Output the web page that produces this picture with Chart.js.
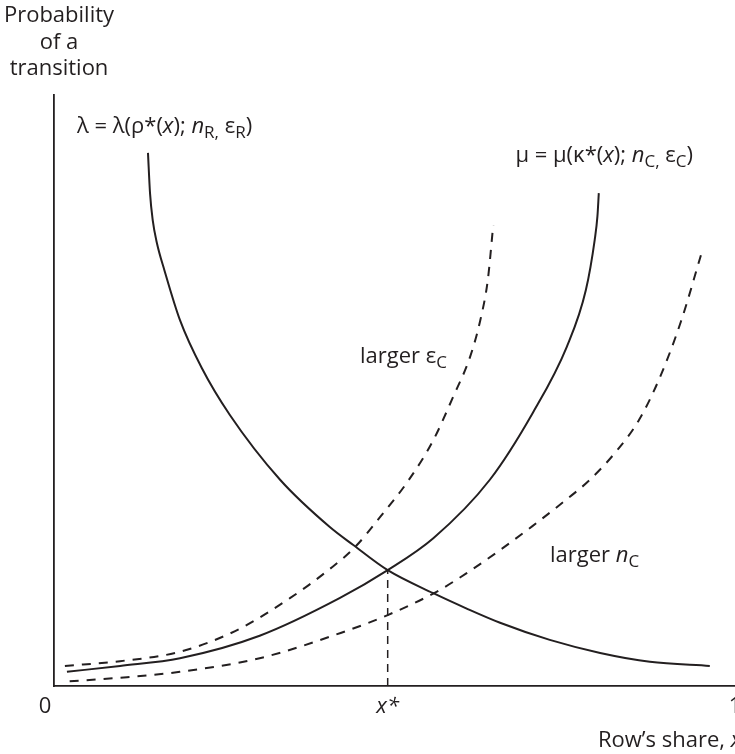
<!DOCTYPE html>
<html lang="en">
<head>
  <meta charset="UTF-8" />
  <title>Probability of a transition</title>
  <script src="https://cdn.jsdelivr.net/npm/chart.js"></script>
  <style>
    html, body { margin: 0; padding: 0; background: #fff; }
    canvas { display: block; }
  </style>
</head>
<body>
  <canvas id="grafico" width="735" height="754"></canvas>

  <script>
    // Row's share x (0..1) against probability of a transition (0..1)
    const lambdaX = [0.138, 0.141, 0.145, 0.151, 0.162, 0.185, 0.217, 0.258, 0.332, 0.405, 0.439, 0.490, 0.557, 0.606, 0.655, 0.728, 0.802, 0.875, 0.963];
    const lambdaY = [0.902, 0.834, 0.788, 0.750, 0.704, 0.619, 0.538, 0.459, 0.349, 0.269, 0.239, 0.196, 0.157, 0.131, 0.107, 0.078, 0.056, 0.041, 0.034];

    const muX = [0.019, 0.097, 0.185, 0.302, 0.420, 0.490, 0.557, 0.640, 0.703, 0.753, 0.781, 0.794, 0.798, 0.800];
    const muY = [0.024, 0.034, 0.047, 0.085, 0.149, 0.196, 0.250, 0.349, 0.462, 0.574, 0.670, 0.755, 0.795, 0.834];

    // larger epsilon_C
    const epsX = [0.016, 0.097, 0.185, 0.266, 0.347, 0.405, 0.442, 0.479, 0.520, 0.557, 0.586, 0.611, 0.626, 0.637, 0.645];
    const epsY = [0.034, 0.042, 0.058, 0.093, 0.149, 0.198, 0.235, 0.286, 0.347, 0.416, 0.489, 0.557, 0.619, 0.687, 0.780];

    // larger n_C
    const nX = [0.023, 0.097, 0.185, 0.302, 0.424, 0.490, 0.561, 0.606, 0.655, 0.703, 0.753, 0.787, 0.827, 0.859, 0.890, 0.921, 0.950];
    const nY = [0.008, 0.014, 0.024, 0.047, 0.091, 0.120, 0.159, 0.191, 0.230, 0.271, 0.316, 0.349, 0.399, 0.450, 0.523, 0.618, 0.729];

    const xStar = 0.49;
    const yStar = 0.196;
    const xTicks = [0, xStar, 1];
    const xTickLabels = ['0', 'x*', '1'];

    const INK = '#231f20';
    const FAMILY = '"Open Sans", sans-serif';
    const SIZE = 22;

    function puntos(xs, ys) {
      return xs.map((x, i) => ({ x, y: ys[i] }));
    }

    function curva(xs, ys, dash) {
      return {
        data: puntos(xs, ys),
        borderColor: INK,
        borderWidth: 2,
        borderDash: dash || [],
        pointRadius: 0,
        cubicInterpolationMode: 'monotone',
        fill: false
      };
    }

    // text made of pieces: plain, italic, subscript
    function fuente(p, size) {
      const s = p.sub ? Math.round(size * 0.78) : size;
      return (p.it ? 'italic ' : '') + s + 'px ' + FAMILY;
    }

    function escribir(ctx, x, y, partes, align, size) {
      let total = 0;
      partes.forEach(p => { ctx.font = fuente(p, size); total += ctx.measureText(p.t).width; });
      let cx = align === 'right' ? x - total : align === 'center' ? x - total / 2 : x;
      partes.forEach(p => {
        ctx.font = fuente(p, size);
        ctx.fillText(p.t, cx, y + (p.sub ? size * 0.3 : 0));
        cx += ctx.measureText(p.t).width;
      });
    }

    const rotulos = {
      id: 'rotulos',
      afterDraw(chart) {
        const ctx = chart.ctx;
        const sx = chart.scales.x;
        ctx.save();
        ctx.fillStyle = INK;
        ctx.textBaseline = 'middle';

        // y axis title
        ctx.textAlign = 'center';
        ctx.font = SIZE + 'px ' + FAMILY;
        ctx.fillText('Probability', 59, 16);
        ctx.fillText('of a', 59, 43);
        ctx.fillText('transition', 59, 69);

        // x ticks
        ctx.textAlign = 'left';
        xTicks.forEach((v, i) => {
          const px = sx.getPixelForValue(v) + (i === 0 ? -9 : 0);
          const partes = i === 1 ? [{ t: 'x*', it: true }] : [{ t: xTickLabels[i] }];
          escribir(ctx, px, 707, partes, 'center', SIZE);
        });

        escribir(ctx, 598, 741, [{ t: 'Row\u2019s share, ' }, { t: 'x', it: true }], 'left', SIZE);

        escribir(ctx, 77, 127, [
          { t: '\u03bb = \u03bb(\u03c1*(' }, { t: 'x', it: true }, { t: '); ' },
          { t: 'n', it: true }, { t: 'R,', sub: true }, { t: ' \u03b5' }, { t: 'R', sub: true }, { t: ')' }
        ], 'left', SIZE);

        escribir(ctx, 693, 156, [
          { t: '\u03bc = \u03bc(\u03ba*(' }, { t: 'x', it: true }, { t: '); ' },
          { t: 'n', it: true }, { t: 'C,', sub: true }, { t: ' \u03b5' }, { t: 'C', sub: true }, { t: ')' }
        ], 'right', SIZE);

        escribir(ctx, 447, 357, [{ t: 'larger \u03b5' }, { t: 'C', sub: true }], 'right', SIZE);
        escribir(ctx, 550, 556, [{ t: 'larger ' }, { t: 'n', it: true }, { t: 'C', sub: true }], 'left', SIZE);

        ctx.restore();
      }
    };

    new Chart(document.getElementById('grafico'), {
      type: 'line',
      data: {
        datasets: [
          curva(lambdaX, lambdaY),
          curva(muX, muY),
          curva(epsX, epsY, [9, 8]),
          curva(nX, nY, [9, 8]),
          {
            data: [{ x: xStar, y: 0 }, { x: xStar, y: yStar }],
            borderColor: INK,
            borderWidth: 1.5,
            borderDash: [8, 6],
            pointRadius: 0
          }
        ]
      },
      options: {
        responsive: false,
        animation: false,
        layout: { padding: { top: 95, right: 0, left: 0, bottom: 0 } },
        plugins: { legend: { display: false }, tooltip: { enabled: false } },
        scales: {
          x: {
            type: 'linear', min: 0, max: 1,
            grid: { display: false },
            ticks: { display: false },
            border: { display: true, color: INK, width: 1.8 },
            afterFit: s => { s.height = 68; }
          },
          y: {
            type: 'linear', min: 0, max: 1,
            grid: { display: false },
            ticks: { display: false },
            border: { display: true, color: INK, width: 1.8 },
            afterFit: s => { s.width = 54; }
          }
        }
      },
      plugins: [rotulos]
    });
  </script>
</body>
</html>
